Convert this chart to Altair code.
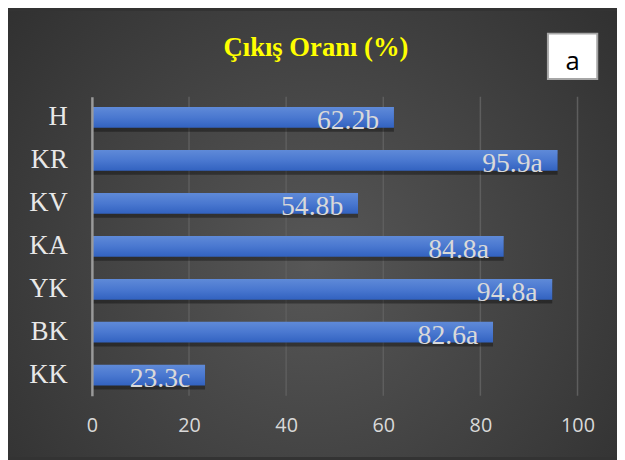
import altair as alt
import pandas as pd

categories = ["H", "KR", "KV", "KA", "YK", "BK", "KK"]
values = [62.2, 95.9, 54.8, 84.8, 94.8, 82.6, 23.3]
letters = ["b", "a", "b", "a", "a", "a", "c"]
x_ticks = [0, 20, 40, 60, 80, 100]
title_text = "Çıkış Oranı (%)"
panel_text = "a"

SERIF = "Times New Roman, Liberation Serif, serif"

df = pd.DataFrame({
    "cat": categories,
    "val": values,
    "lab": [f"{v}{l}" for v, l in zip(values, letters)],
})
grid_df = pd.DataFrame({"val": x_ticks[1:]})
one = pd.DataFrame({"t": [title_text], "p": [panel_text]})

xscale = alt.Scale(domain=[0, 100], nice=False)
yscale = alt.Scale(paddingInner=0.517, paddingOuter=0.24)
xaxis = alt.Axis(values=x_ticks, grid=False, domain=False, ticks=False,
                 labelFont="Open Sans", labelFontSize=20, labelColor="#d9d9d9",
                 labelPadding=20, labelFlush=False, title=None, zindex=1)
yaxis = alt.Axis(title=None, domain=True, domainColor="#9a9a9a", domainWidth=2.5,
                 ticks=False, grid=False, labelFont=SERIF,
                 labelFontSize=27, labelColor="#e8e8e8", labelPadding=25, zindex=1)

bg = alt.Chart(one).mark_rect(
    fill={"gradient": "radial", "x1": 0.5, "y1": 0.55, "r1": 0,
          "x2": 0.5, "y2": 0.55, "r2": 0.75,
          "stops": [{"offset": 0, "color": "#575757"},
                    {"offset": 1, "color": "#2b2b2b"}]}
).encode(x=alt.value(-85), x2=alt.value(532), y=alt.value(-87), y2=alt.value(365))

grid = alt.Chart(grid_df).mark_rule(color="#5e5e5e", strokeWidth=1.5).encode(
    x=alt.X("val:Q", scale=xscale, axis=xaxis)
)

y_enc = alt.Y("cat:N", sort=categories, scale=yscale, axis=yaxis)
x_enc = alt.X("val:Q", scale=xscale, axis=xaxis)

shadow = alt.Chart(df).mark_bar(color="black", opacity=0.35, yOffset=4, y2Offset=4,
                                x2Offset=3).encode(x=x_enc, y=y_enc)

bars = alt.Chart(df).mark_bar(
    color={"gradient": "linear", "x1": 0, "y1": 0, "x2": 0, "y2": 1,
           "stops": [{"offset": 0, "color": "#5f8ad8"},
                     {"offset": 0.5, "color": "#4a78d0"},
                     {"offset": 1, "color": "#3262c0"}]}
).encode(x=x_enc, y=y_enc)

labels = alt.Chart(df).mark_text(
    align="right", baseline="alphabetic", dx=-15, dy=12,
    font=SERIF, fontSize=28, color="#d9d9d9"
).encode(x=x_enc, y=y_enc, text="lab:N")

title = alt.Chart(one).mark_text(
    font=SERIF, fontSize=27, fontWeight="bold", color="#ffff00",
    align="center", baseline="alphabetic"
).encode(x=alt.value(227), y=alt.value(-41), text="t:N")

box = alt.Chart(one).mark_rect(fill="white", stroke="#a6a6a6", strokeWidth=2).encode(
    x=alt.value(462), x2=alt.value(512), y=alt.value(-64), y2=alt.value(-18)
)
box_text = alt.Chart(one).mark_text(
    font="Open Sans", fontSize=26, color="black", align="center", baseline="alphabetic"
).encode(x=alt.value(487), y=alt.value(-27), text="p:N")

chart = alt.layer(bg, grid, shadow, bars, labels, title, box, box_text).properties(
    width=492, height=303,
    padding={"left": 85, "top": 87, "right": 40, "bottom": 62},
    autosize=alt.AutoSizeParams(type="none"),
    background="#333333",
).configure_view(stroke=None)

chart.save("out.html", embed_options={"renderer": "svg", "actions": False})
